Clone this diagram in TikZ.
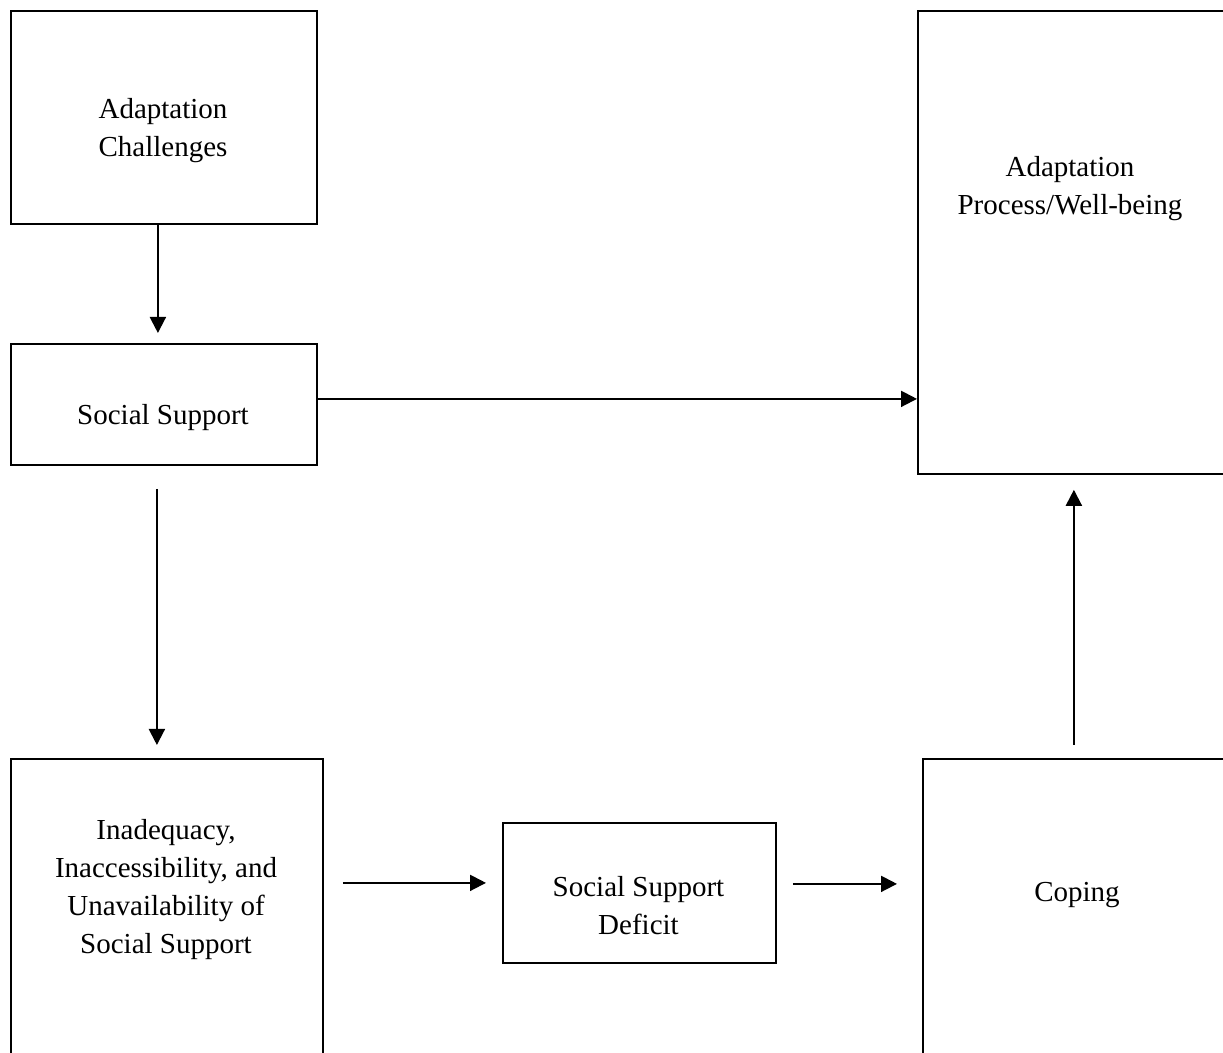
\documentclass[tikz,border=0pt]{standalone}
\usepackage{fontspec}
\setmainfont{Liberation Serif}
\usetikzlibrary{arrows.meta,positioning,calc}
\tikzset{
  >={Triangle[length=8pt,width=8pt]},
  % rutor
  blk/.style={draw=black,line width=0.9pt,anchor=north west,inner sep=0pt},
  lbl/.style={align=center,inner sep=0pt,font=\fontsize{14.5}{19}\selectfont},
  % pilar
  flow/.style={->,draw=black,line width=1pt},
}
\begin{document}
\begin{tikzpicture}[x=0.5pt,y=-0.5pt]
  \useasboundingbox (0,0) rectangle (1223,1053);
  \clip (0,0) rectangle (1223,1053);
  \node[blk,minimum width=153pt,minimum height=106.5pt] (chal) at (10,10) {};
  \node[blk,minimum width=153pt,minimum height=60.5pt] (supp) at (10,343) {};
  \node[blk,minimum width=156pt,minimum height=231.5pt] (proc) at (917,10) {};
  \node[blk,minimum width=156pt,minimum height=160pt] (inad) at (10,758) {};
  \node[blk,minimum width=136.5pt,minimum height=70pt] (ssd) at (502,822) {};
  \node[blk,minimum width=156pt,minimum height=160pt] (cope) at (922,758) {};
  \node[lbl] (lchal) at (163,131) {Adaptation\\Challenges};
  \node[lbl] (lsupp) at (163,418) {Social Support};
  \node[lbl] (lproc) at (1070,189) {Adaptation\\Process/Well-being};
  \node[lbl] (linad) at (166,890) {Inadequacy,\\Inaccessibility, and\\Unavailability of\\Social Support};
  \node[lbl] (lssd) at (638.5,905.5) {Social Support\\Deficit};
  \node[lbl] (lcope) at (1077,895) {Coping};
  \draw[flow,shorten >=5pt] ([xshift=-3pt]chal.south) -- ([xshift=-3pt]supp.north);
  \draw[flow] ([yshift=2.75pt]supp.east) -- ([yshift=2.75pt]supp.east -| proc.west);
  \draw[flow,shorten <=11.5pt,shorten >=6.5pt] ([xshift=-3.5pt]supp.south) -- ([xshift=-3.5pt]supp.south |- inad.north);
  \draw[flow,shorten <=9.5pt,shorten >=8pt] ([yshift=5pt]ssd.west -| inad.east) -- ([yshift=5pt]ssd.west);
  \draw[flow,shorten <=8pt,shorten >=12.5pt] ([yshift=4.5pt]ssd.east) -- ([yshift=4.5pt]ssd.east -| cope.west);
  \draw[flow,shorten <=6.5pt,shorten >=7.5pt] (cope.north -| proc.south) -- (proc.south);
\end{tikzpicture}
\end{document}
